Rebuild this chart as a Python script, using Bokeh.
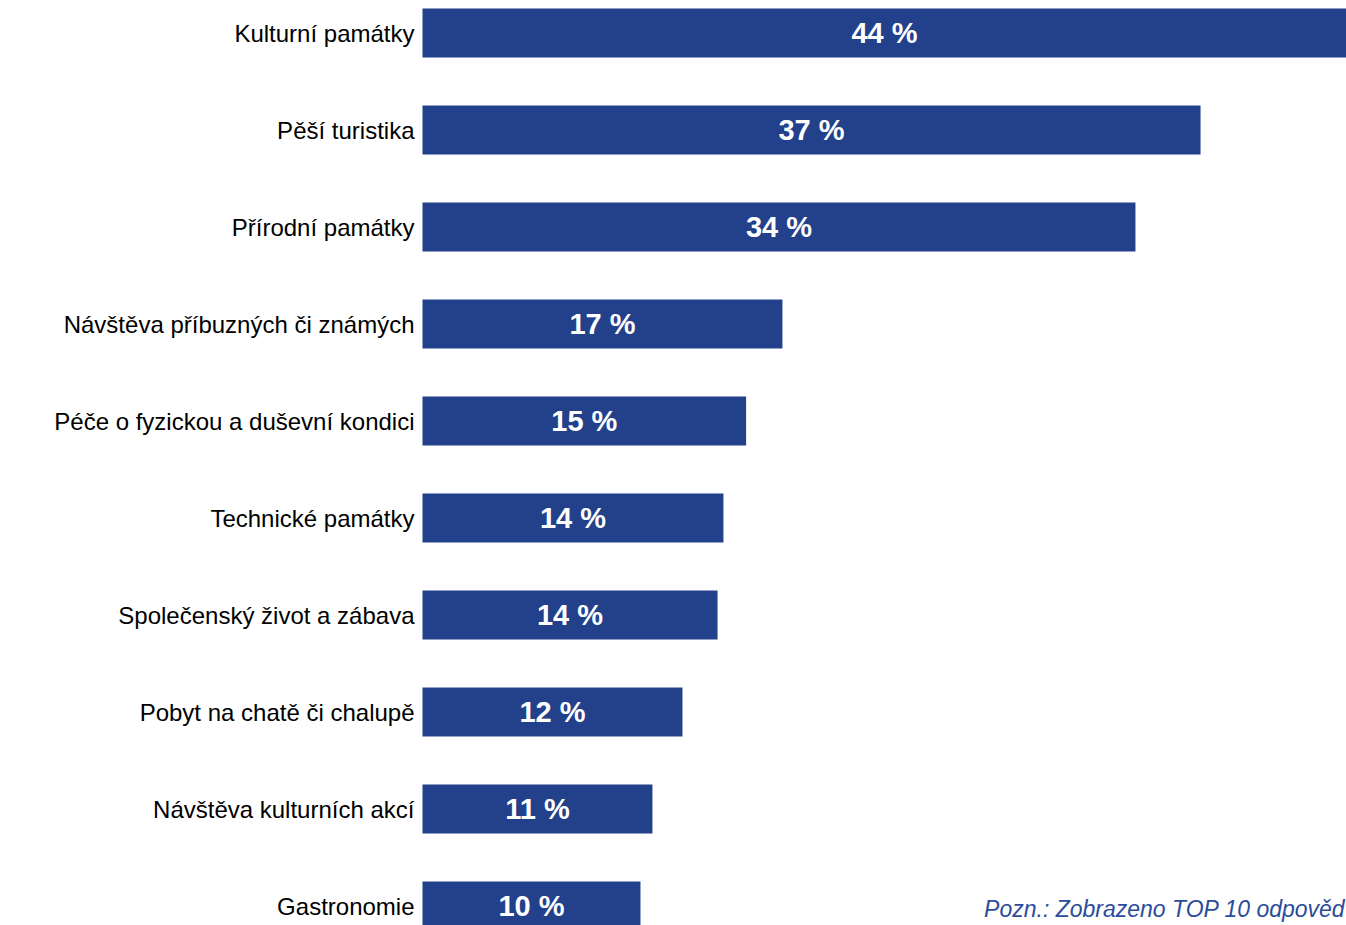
from bokeh.plotting import figure
from bokeh.models import ColumnDataSource, Range1d, Label
from bokeh.embed import file_html
from bokeh.resources import INLINE
from bokeh.core.properties import value

categories = [
    "Kulturní památky",
    "Pěší turistika",
    "Přírodní památky",
    "Návštěva příbuzných či známých",
    "Péče o fyzickou a duševní kondici",
    "Technické památky",
    "Společenský život a zábava",
    "Pobyt na chatě či chalupě",
    "Návštěva kulturních akcí",
    "Gastronomie",
]
values = [44.0, 37.05, 33.95, 17.14, 15.41, 14.33, 14.05, 12.38, 10.95, 10.38]
value_labels = ["44 %", "37 %", "34 %", "17 %", "15 %", "14 %", "14 %", "12 %", "11 %", "10 %"]
note_text = "Pozn.: Zobrazeno TOP 10 odpověd"

BAR_COLOR = "#22418A"
NOTE_COLOR = "#2B4C9B"

W, H = 1346, 925
left_px = 422
px_per_unit = (W - left_px) / max(values)
row_px = 97.0
first_center_px = 32.5

x_start = -left_px / px_per_unit
x_end = (W - left_px) / px_per_unit
y_top = -first_center_px / row_px
y_bottom = (H - first_center_px) / row_px

ypos = list(range(len(categories)))
source = ColumnDataSource(dict(
    y=ypos,
    val=values,
    half=[v / 2 for v in values],
    zero=[0] * len(values),
    cat=categories,
    lab=value_labels,
))

p = figure(
    width=W, height=H,
    x_range=Range1d(x_start, x_end),
    y_range=Range1d(y_bottom, y_top),
    x_axis_type=None, y_axis_type=None,
    toolbar_location=None, output_backend="svg",
    min_border=0, min_border_left=0, min_border_right=0,
    min_border_top=0, min_border_bottom=0,
)
p.outline_line_color = None
p.xgrid.visible = False
p.ygrid.visible = False
p.background_fill_color = "white"
p.border_fill_color = "white"

p.hbar(y="y", left="zero", right="val", height=49.0 / row_px, source=source,
       fill_color=BAR_COLOR, line_color=None)

p.text(x="zero", y="y", text="cat", source=source, x_offset=-8,
       text_align="right", text_baseline="middle",
       text_font=value("Liberation Sans"), text_font_size="24px",
       text_color="#000000")

p.text(x="half", y="y", text="lab", source=source,
       text_align="center", text_baseline="middle",
       text_font=value("Liberation Sans"), text_font_size="29px",
       text_font_style="bold", text_color="white")

note = Label(x=W - 1, y=4, x_units="screen", y_units="screen", text=note_text,
             text_align="right", text_baseline="bottom",
             text_font="Liberation Sans", text_font_size="23px",
             text_font_style="italic", text_color=NOTE_COLOR)
p.add_layout(note)

open("out.html", "w").write(file_html(p, INLINE))
